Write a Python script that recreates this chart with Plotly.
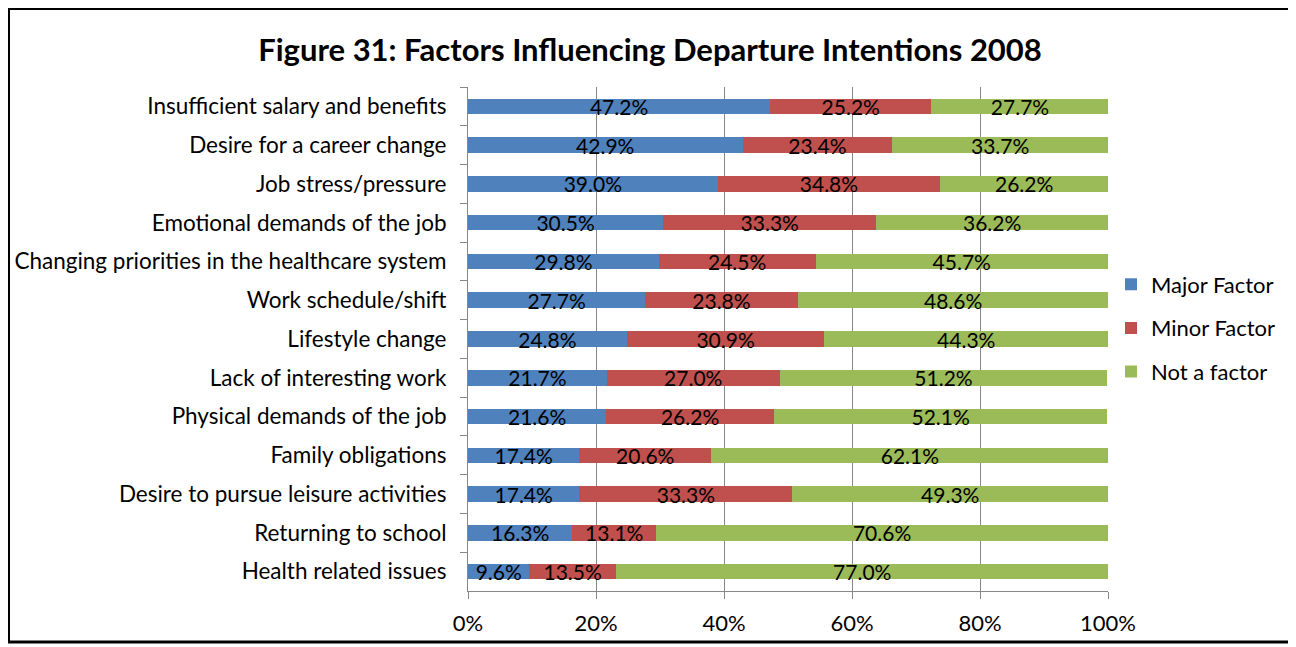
import plotly.graph_objects as go

categories = [
    "Insufficient salary and benefits",
    "Desire for a career change",
    "Job stress/pressure",
    "Emotional demands of the job",
    "Changing priorities in the healthcare system",
    "Work schedule/shift",
    "Lifestyle change",
    "Lack of interesting work",
    "Physical demands of the job",
    "Family obligations",
    "Desire to pursue leisure activities",
    "Returning to school",
    "Health related issues",
]
major = [47.2, 42.9, 39.0, 30.5, 29.8, 27.7, 24.8, 21.7, 21.6, 17.4, 17.4, 16.3, 9.6]
minor = [25.2, 23.4, 34.8, 33.3, 24.5, 23.8, 30.9, 27.0, 26.2, 20.6, 33.3, 13.1, 13.5]
notf = [27.7, 33.7, 26.2, 36.2, 45.7, 48.6, 44.3, 51.2, 52.1, 62.1, 49.3, 70.6, 77.0]
series_names = ["Major Factor", "Minor Factor", "Not a factor"]
colors = ["#4F81BD", "#C0504D", "#9BBB59"]
x_ticks = [0, 20, 40, 60, 80, 100]
x_tick_labels = ["0%", "20%", "40%", "60%", "80%", "100%"]

FONT = "Lato"
OFF = 8  # page body margin
W, H = 1296, 647
L = 468 - OFF
Rpx = 1108 - OFF
Tpx = 87 - OFF
Bpx = 591 - OFF
pw, ph = Rpx - L, Bpx - Tpx

def px(xs):
    return (xs - OFF - L) / pw

def py(ys):
    return (Bpx - (ys - OFF)) / ph

fig = go.Figure()
for i, (name, vals, col) in enumerate(zip(series_names, [major, minor, notf], colors)):
    fig.add_trace(go.Bar(
        y=categories, x=vals, name=name, orientation="h", legendgroup=str(i),
        marker=dict(color=col, line=dict(width=0)),
        text=[f"{v:.1f}%" for v in vals], textposition="inside",
        insidetextanchor="middle", constraintext="none",
        textfont=dict(color="black", size=21, family=FONT),
        hoverinfo="skip",
    ))

fig.update_layout(
    width=W, height=H, barmode="stack", bargap=0.6,
    margin=dict(l=L, r=W - Rpx, t=Tpx, b=H - Bpx, autoexpand=False),
    paper_bgcolor="white", plot_bgcolor="white",
    font=dict(family=FONT, size=22, color="black"),
    title=dict(text="<b>Figure 31: Factors Influencing Departure Intentions 2008</b>",
               x=(650 - OFF) / W, xanchor="center", y=1 - (50 - OFF) / H, yanchor="middle",
               font=dict(size=31, family=FONT, color="black")),
    legend=dict(x=px(1111), xanchor="left", y=py(328), yanchor="middle",
                font=dict(size=22, family=FONT), tracegroupgap=12,
                itemsizing="constant", traceorder="grouped"),
    xaxis=dict(range=[0, 100], tickvals=x_ticks, ticktext=x_tick_labels,
               showgrid=True, gridcolor="#878787", gridwidth=1,
               showline=True, linecolor="#878787", linewidth=1,
               ticks="outside", ticklen=7, tickcolor="#878787",
               tickfont=dict(size=22), ticklabelstandoff=6, zeroline=False),
    yaxis=dict(autorange="reversed", showline=True, linecolor="#878787", linewidth=1,
               ticks="outside", ticklen=7, tickcolor="#878787", tickson="boundaries",
               tickfont=dict(size=22.5), ticklabelstandoff=16, showgrid=False),
    shapes=[dict(type="rect", xref="paper", yref="paper",
                 x0=px(8.5), x1=px(1291), y0=py(642), y1=py(8.5),
                 line=dict(color="black", width=3), fillcolor="rgba(0,0,0,0)")],
)
fig.write_html("out.html")
